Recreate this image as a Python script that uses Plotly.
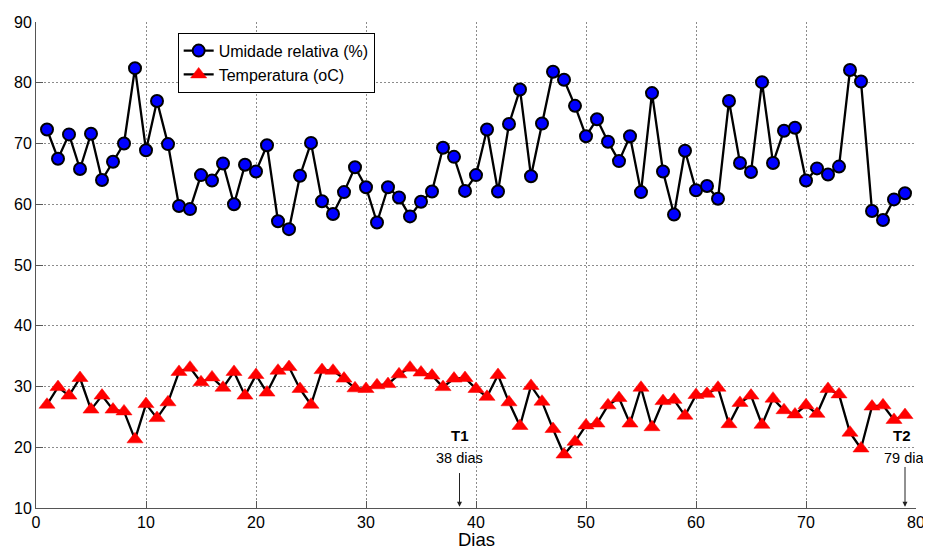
import plotly.graph_objects as go

dias = list(range(1, 80))

umidade = [72.3, 67.5, 71.5, 65.8, 71.6, 64.0, 67.0, 70.0, 82.4, 68.9,
           77.0, 69.9, 59.7, 59.2, 64.8, 63.9, 66.7, 60.0, 66.5, 65.4,
           69.7, 57.2, 55.9, 64.7, 70.1, 60.5, 58.4, 62.0, 66.1, 62.8,
           57.0, 62.8, 61.1, 58.0, 60.4, 62.1, 69.3, 67.8, 62.2, 64.8,
           72.3, 62.1, 73.2, 78.9, 64.6, 73.3, 81.8, 80.5, 76.2, 71.2,
           74.0, 70.3, 67.1, 71.2, 62.0, 78.3, 65.4, 58.3, 68.8, 62.3,
           63.0, 60.9, 77.0, 66.8, 65.3, 80.1, 66.8, 72.1, 72.6, 63.9,
           65.9, 64.9, 66.2, 82.1, 80.2, 58.9, 57.4, 60.8, 61.8]

temperatura = [27.0, 29.9, 28.5, 31.4, 26.2, 28.5, 26.2, 25.9, 21.3, 27.1,
               24.8, 27.4, 32.4, 33.1, 30.7, 31.5, 29.8, 32.4, 28.5, 31.9,
               29.0, 32.6, 33.2, 29.6, 27.0, 32.7, 32.6, 31.3, 29.7, 29.6,
               30.2, 30.4, 32.0, 33.1, 32.3, 31.8, 29.9, 31.3, 31.4, 29.6,
               28.3, 31.9, 27.4, 23.5, 30.1, 27.5, 23.0, 18.8, 20.9, 23.6,
               23.9, 26.9, 28.1, 23.9, 29.8, 23.3, 27.6, 27.8, 25.2, 28.6,
               28.8, 29.8, 23.8, 27.3, 28.5, 23.7, 28.0, 26.1, 25.4, 26.9,
               25.5, 29.6, 28.7, 22.4, 19.8, 26.7, 26.9, 24.5, 25.3]

x_ticks = [0, 10, 20, 30, 40, 50, 60, 70, 80]
y_ticks = [10, 20, 30, 40, 50, 60, 70, 80, 90]

marcos_x = [38.5, 79.0]
marcos_label = ["T1", "T2"]
marcos_dias = ["38 dias", "79 dias"]

FONT = "Liberation Sans, Arial, Helvetica, sans-serif"

fig = go.Figure()
fig.add_trace(go.Scatter(
    x=dias, y=umidade, mode="lines+markers", name="Umidade relativa (%)",
    line=dict(color="black", width=2.3),
    marker=dict(symbol="circle", size=12, color="#0000FF",
                line=dict(color="black", width=2)),
))
fig.add_trace(go.Scatter(
    x=dias, y=temperatura, mode="lines+markers", name="Temperatura (oC)",
    line=dict(color="black", width=2.3),
    marker=dict(symbol="triangle-up", size=14, color="#FF0000",
                line=dict(color="#FF0000", width=0.5)),
))

axis_common = dict(
    showgrid=True, gridcolor="#8c8c8c", griddash="1.5px,2.5px", gridwidth=1,
    zeroline=False, showline=True, linecolor="#555555", linewidth=1,
    ticks="inside", ticklen=7, tickcolor="#555555",
    tickfont=dict(family=FONT, size=16, color="black"),
    mirror=False, automargin=False,
)

fig.update_xaxes(range=[0, 80], tickvals=x_ticks, **axis_common)
fig.update_yaxes(range=[10, 90], tickvals=y_ticks, **axis_common)

# x axis title placed just below the tick labels
fig.add_annotation(x=0.5, y=-0.065, xref="paper", yref="paper",
                   xanchor="center", yanchor="middle", showarrow=False,
                   text="Dias", font=dict(family=FONT, size=18.5, color="black"))

# annotations T1 / T2
tails = [16.0, 17.0]
for xa, label, days, tail in zip(marcos_x, marcos_label, marcos_dias, tails):
    fig.add_annotation(x=xa, y=10.2, ax=xa, ay=tail, xref="x", yref="y",
                       axref="x", ayref="y", showarrow=True, arrowhead=2,
                       arrowsize=1, arrowwidth=1, arrowcolor="#222222", text="")
    fig.add_annotation(x=xa - (0.3 if label == "T2" else 0), y=22.0, xref="x", yref="y",
                       text="<b>%s</b>" % label, showarrow=False,
                       font=dict(family=FONT, size=15, color="black"))
    fig.add_annotation(x=xa + (0.2 if label == "T2" else 0), y=18.3, xref="x", yref="y",
                       text=days, showarrow=False,
                       font=dict(family=FONT, size=14.5, color="black"))

# the page body adds an 8px offset, so the figure is 8px smaller and margins shifted
fig.update_layout(
    width=923, height=540,
    margin=dict(l=28, r=15, t=14, b=40),
    paper_bgcolor="white", plot_bgcolor="white",
    font=dict(family=FONT, color="black"),
    legend=dict(x=0.161, y=0.978, xanchor="left", yanchor="top",
                bgcolor="white", bordercolor="black", borderwidth=1,
                font=dict(family=FONT, size=16, color="black"),
                tracegroupgap=0, itemwidth=30),
    showlegend=True,
)

fig.write_html("out.html")
